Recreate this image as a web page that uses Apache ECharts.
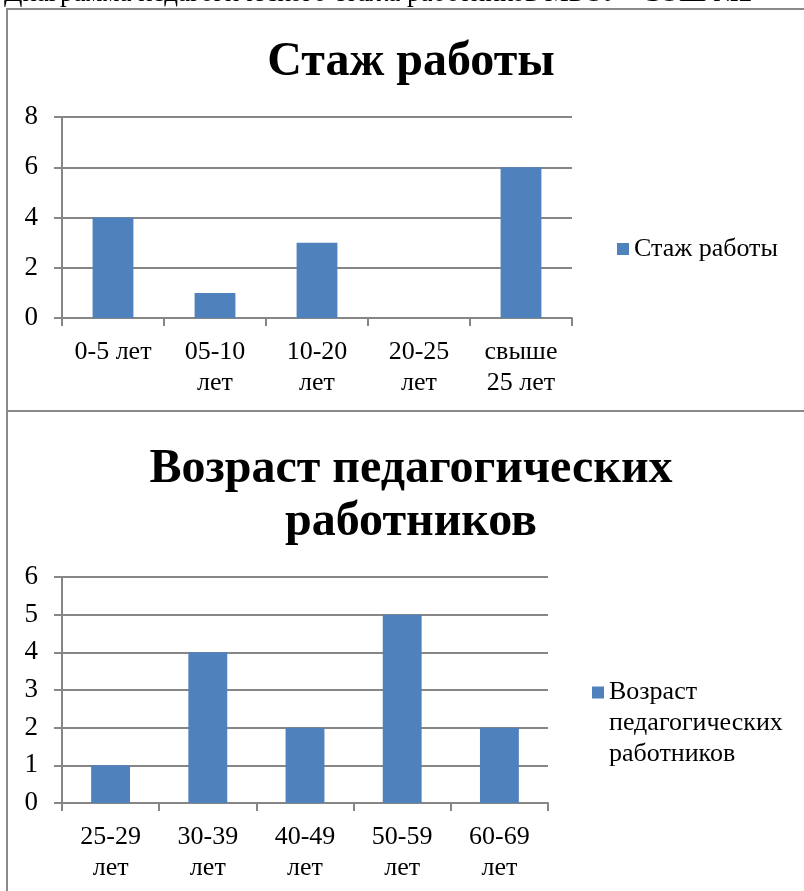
<!DOCTYPE html>
<html><head><meta charset="utf-8">
<script src="https://cdn.jsdelivr.net/npm/echarts@6/dist/echarts.min.js"></script>
<style>html,body{margin:0;padding:0;background:#fff;}#c{width:804px;height:891px;}</style>
</head><body><div id="c"></div>
<script>
const headerText = 'Диаграмма педагогического стажа работников МБОУ «СОШ №2»';
const title1 = 'Стаж работы';
const categories1 = ['0-5 лет', '05-10 лет', '10-20 лет', '20-25 лет', 'свыше 25 лет'];
const values1 = [4, 1, 3, 0, 6];
const title2 = 'Возраст педагогических\nработников';
const seriesName2 = 'Возраст педагогических работников';
const categories2 = ['25-29 лет', '30-39 лет', '40-49 лет', '50-59 лет', '60-69 лет'];
const values2 = [1, 4, 2, 5, 2];

const FONT = '"Liberation Serif", "Times New Roman", serif';
const AX = '#868686';
const BAR = '#4F81BD';
const wrap = s => s.length > 7 ? s.replace(' ', '\n') : s;

const chart = echarts.init(document.getElementById('c'), null, {renderer: 'canvas'});
function xAxis(gi, cats) {
  return {
    type: 'category', gridIndex: gi, data: cats,
    axisLine: {lineStyle: {color: AX, width: 2}},
    axisTick: {show: true, length: 8, lineStyle: {color: AX, width: 2}, alignWithLabel: false},
    axisLabel: {fontFamily: FONT, fontSize: 26, color: '#000', lineHeight: 31, margin: 19, formatter: wrap, interval: 0}
  };
}
function yAxis(gi, max, interval) {
  return {
    type: 'value', gridIndex: gi, min: 0, max: max, interval: interval,
    axisLine: {show: true, lineStyle: {color: AX, width: 2}},
    axisTick: {show: true, length: 8, lineStyle: {color: AX, width: 2}},
    splitLine: {lineStyle: {color: AX, width: 2}},
    axisLabel: {fontFamily: FONT, fontSize: 27, color: '#000', margin: 24}
  };
}
chart.setOption({
  animation: false,
  backgroundColor: '#fff',
  title: [
    {text: title1, left: 406, top: 34, textAlign: 'center',
      textStyle: {fontFamily: FONT, fontSize: 48, fontWeight: 'bold', color: '#000'}},
    {text: title2, left: 406, top: 438, textAlign: 'center',
      textStyle: {fontFamily: FONT, fontSize: 48, fontWeight: 'bold', color: '#000', lineHeight: 53}}
  ],
  legend: [
    {data: [title1], left: 617, top: 236, padding: 0, itemWidth: 12, itemHeight: 12, itemGap: 0,
      icon: 'rect', textStyle: {fontFamily: FONT, fontSize: 26, color: '#000'}},
    {data: [seriesName2], left: 592, top: 615, padding: 0, itemWidth: 12, itemHeight: 12,
      icon: 'rect', formatter: () => '\n\nВозраст\nпедагогических\nработников',
      textStyle: {fontFamily: FONT, fontSize: 26, color: '#000', lineHeight: 31}}
  ],
  grid: [
    {left: 62, top: 117, width: 510, height: 201},
    {left: 62, top: 577, width: 486, height: 226}
  ],
  xAxis: [xAxis(0, categories1), xAxis(1, categories2)],
  yAxis: [yAxis(0, 8, 2), yAxis(1, 6, 1)],
  series: [
    {name: title1, type: 'bar', xAxisIndex: 0, yAxisIndex: 0, data: values1, barWidth: '40%', itemStyle: {color: BAR}},
    {name: seriesName2, type: 'bar', xAxisIndex: 1, yAxisIndex: 1, data: values2, barWidth: '40%', itemStyle: {color: BAR}}
  ],
  graphic: [
    {type: 'text', left: 4, top: -20, style: {text: headerText, font: '27px ' + FONT, fill: '#000'}},
    {type: 'rect', shape: {x: 7, y: 9, width: 820, height: 402}, style: {fill: 'none', stroke: '#8a8a8a', lineWidth: 2}, z: -1},
    {type: 'rect', shape: {x: 7, y: 411, width: 820, height: 500}, style: {fill: 'none', stroke: '#8a8a8a', lineWidth: 2}, z: -1}
  ]
});
</script></body></html>
